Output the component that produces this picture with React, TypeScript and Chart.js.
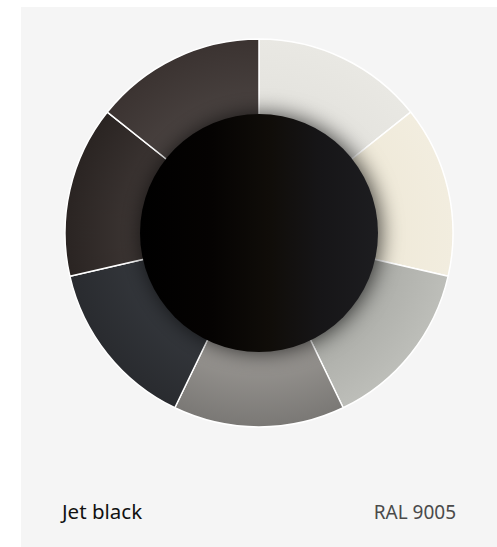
import React, { useEffect, useRef } from "react";
import { Chart, registerables } from "chart.js";

Chart.register(...registerables);

const swatchLabels = ["RAL 9002", "RAL 9001", "RAL 7035", "RAL 7036", "RAL 7021", "RAL 8019", "RAL 8022"];
const swatchValues = [1, 1, 1, 1, 1, 1, 1];
const innerColors = ["#e3e2dd", "#efe9d8", "#aaaba6", "#9b9894", "#34373c", "#3d3634", "#4a4341"];
const outerColors = ["#e9e8e3", "#f2eddf", "#bdbeb9", "#7a7875", "#292b2f", "#2a2422", "#3b3331"];
const titleText = "Jet black";
const codeText = "RAL 9005";
const discRadius = 119;

const centerDisc = {
  id: "centerDisc",
  afterDatasetsDraw(chart: any) {
    const meta = chart.getDatasetMeta(0);
    const arc = meta.data[0];
    if (!arc) return;
    const { x, y } = arc.getProps(["x", "y"], true);
    const r = discRadius;
    const c = chart.ctx;
    c.save();
    const g = c.createLinearGradient(x - r, 0, x + r, 0);
    g.addColorStop(0, "#000000");
    g.addColorStop(0.3, "#050302");
    g.addColorStop(0.55, "#100d09");
    g.addColorStop(0.75, "#161517");
    g.addColorStop(1, "#1d1d20");
    c.shadowColor = "rgba(0,0,0,0.75)";
    c.shadowBlur = 22;
    c.shadowOffsetX = 2;
    c.shadowOffsetY = 0;
    c.beginPath();
    c.arc(x, y, r, 0, Math.PI * 2);
    c.fillStyle = g;
    c.fill();
    c.restore();
  },
};

export default function App() {
  const ref = useRef<HTMLCanvasElement | null>(null);
  useEffect(() => {
    if (!ref.current) return;
    const chart = new Chart(ref.current, {
      type: "doughnut",
      data: {
        labels: swatchLabels,
        datasets: [
          {
            data: swatchValues,
            backgroundColor: (ctx: any) => {
              const i = ctx.dataIndex;
              const ch = ctx.chart;
              const area = ch.chartArea;
              if (!area || i === undefined) return innerColors[i ?? 0];
              const cx = (area.left + area.right) / 2;
              const cy = (area.top + area.bottom) / 2;
              const g = ch.ctx.createRadialGradient(cx, cy, 119, cx, cy, 194);
              g.addColorStop(0, innerColors[i]);
              g.addColorStop(1, outerColors[i]);
              return g;
            },
            borderColor: "#ffffff",
            borderWidth: 1.5,
            hoverOffset: 0,
          } as any,
        ],
      },
      options: {
        responsive: false,
        animation: false,
        radius: 194,
        cutout: 110,
        rotation: 0,
        layout: { padding: 0 },
        plugins: {
          legend: { display: false },
          tooltip: { enabled: false },
        },
      } as any,
      plugins: [centerDisc],
    });
    return () => chart.destroy();
  }, []);

  return (
    <div>
      <div
        style={{
          position: "absolute",
          left: 21,
          top: 7,
          width: 476,
          height: 540,
          background: "#f5f5f5",
        }}
      />
      <canvas
        ref={ref}
        width={400}
        height={400}
        style={{ position: "absolute", left: 59, top: 33, width: 400, height: 400 }}
      />
      <div
        style={{
          position: "absolute",
          left: 62,
          top: 502,
          fontFamily: "'Noto Sans', sans-serif",
          fontSize: 20.5,
          lineHeight: "18px",
          color: "#111111",
          whiteSpace: "nowrap",
        }}
      >
        {titleText}
      </div>
      <div
        style={{
          position: "absolute",
          right: 497 - 456,
          top: 503,
          fontFamily: "'Noto Sans', sans-serif",
          fontSize: 19,
          lineHeight: "18px",
          color: "#4a4a4a",
          whiteSpace: "nowrap",
        }}
      >
        {codeText}
      </div>
    </div>
  );
}
